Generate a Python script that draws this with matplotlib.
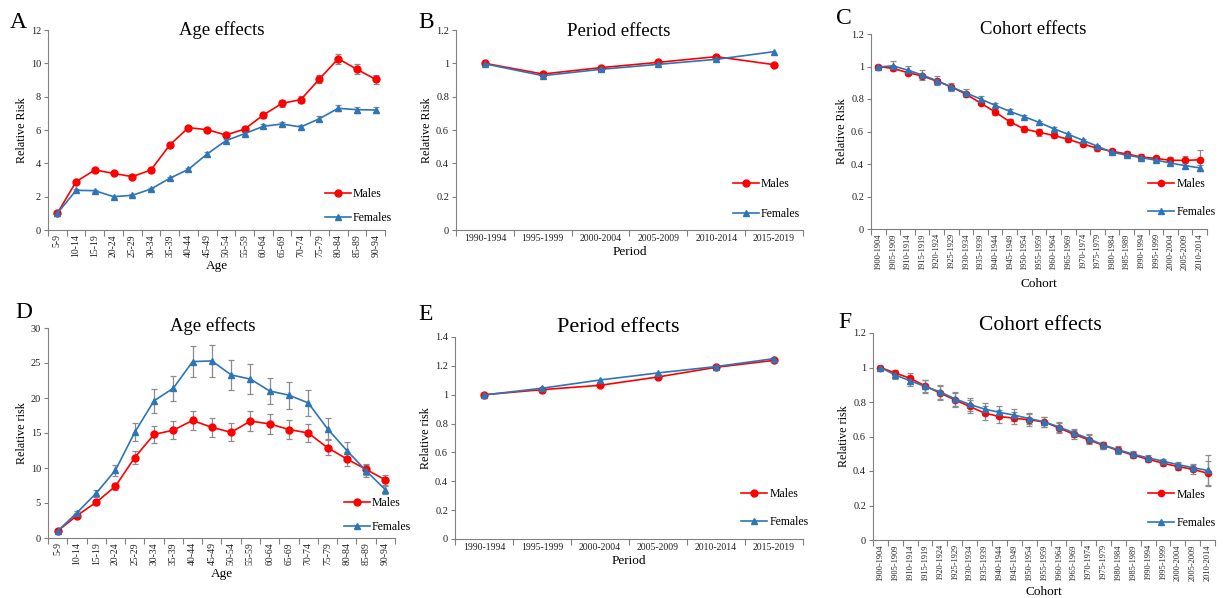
import matplotlib
matplotlib.use("Agg")
import matplotlib.pyplot as plt
from matplotlib.ticker import FuncFormatter

plt.rcParams['font.family'] = ['Liberation Serif', 'DejaVu Serif']

ages = ['5-9', '10-14', '15-19', '20-24', '25-29', '30-34', '35-39', '40-44', '45-49',
        '50-54', '55-59', '60-64', '65-69', '70-74', '75-79', '80-84', '85-89', '90-94']
periods = ['1990-1994', '1995-1999', '2000-2004', '2005-2009', '2010-2014', '2015-2019']
cohorts = ['%d-%d' % (y, y + 4) for y in range(1900, 2011, 5)]

# A: age effects (top)
a_m = [1.0, 2.9, 3.6, 3.4, 3.2, 3.6, 5.1, 6.14, 6.02, 5.7, 6.05, 6.9, 7.6, 7.82, 9.06, 10.28, 9.64, 9.04]
a_m_err = [0.05, 0.1, 0.1, 0.1, 0.1, 0.1, 0.12, 0.12, 0.12, 0.12, 0.12, 0.15, 0.2, 0.2, 0.25, 0.3, 0.3, 0.25]
a_f = [1.0, 2.38, 2.36, 2.0, 2.08, 2.46, 3.1, 3.64, 4.56, 5.36, 5.78, 6.22, 6.36, 6.18, 6.68, 7.3, 7.22, 7.2]
a_f_err = [0.03, 0.07, 0.07, 0.06, 0.06, 0.07, 0.08, 0.09, 0.1, 0.1, 0.1, 0.12, 0.14, 0.14, 0.15, 0.18, 0.17, 0.17]

# B: period effects (top)
b_m = [1.0, 0.936, 0.974, 1.006, 1.04, 0.992]
b_f = [0.997, 0.926, 0.964, 0.994, 1.024, 1.07]

# C: cohort effects (top)
c_m = [1.0, 0.988, 0.963, 0.942, 0.91, 0.875, 0.83, 0.775, 0.72, 0.66, 0.615, 0.595,
       0.576, 0.552, 0.523, 0.497, 0.478, 0.462, 0.443, 0.434, 0.423, 0.422, 0.426]
c_m_err = [0.01, 0.01, 0.01, 0.012, 0.012, 0.012, 0.012, 0.014, 0.016, 0.018, 0.02, 0.02,
           0.018, 0.016, 0.014, 0.014, 0.014, 0.015, 0.016, 0.018, 0.022, 0.03, 0.06]
c_f = [0.997, 1.004, 0.978, 0.948, 0.913, 0.874, 0.837, 0.8, 0.761, 0.724, 0.691, 0.656,
       0.617, 0.583, 0.546, 0.509, 0.472, 0.455, 0.439, 0.424, 0.406, 0.39, 0.376]
c_f_err = [0.015, 0.03, 0.028, 0.028, 0.026, 0.025, 0.022, 0.018, 0.015, 0.012, 0.01, 0.01,
           0.01, 0.01, 0.01, 0.01, 0.012, 0.012, 0.012, 0.013, 0.014, 0.016, 0.018]

# D: age effects (bottom)
d_m = [1.0, 3.2, 5.1, 7.4, 11.5, 14.8, 15.4, 16.8, 15.8, 15.1, 16.7, 16.3, 15.5, 15.0, 12.9, 11.3, 9.8, 8.3]
d_m_err = [0.15, 0.25, 0.35, 0.5, 0.9, 1.2, 1.3, 1.4, 1.3, 1.3, 1.4, 1.4, 1.4, 1.3, 1.1, 1.0, 0.8, 0.7]
d_f = [1.0, 3.6, 6.4, 9.7, 15.1, 19.6, 21.4, 25.2, 25.3, 23.3, 22.7, 21.0, 20.4, 19.3, 15.6, 12.5, 9.6, 6.9]
d_f_err = [0.15, 0.3, 0.5, 0.8, 1.3, 1.7, 1.8, 2.2, 2.3, 2.1, 2.1, 1.9, 1.9, 1.8, 1.5, 1.2, 0.9, 0.6]

# E: period effects (bottom)
e_m = [1.0, 1.035, 1.065, 1.123, 1.19, 1.238]
e_f = [0.998, 1.045, 1.102, 1.151, 1.195, 1.25]

# F: cohort effects (bottom)
f_m = [1.0, 0.968, 0.937, 0.894, 0.852, 0.813, 0.774, 0.736, 0.716, 0.706, 0.697, 0.685,
       0.65, 0.613, 0.581, 0.548, 0.519, 0.492, 0.468, 0.445, 0.426, 0.41, 0.387]
f_m_err = [0.01, 0.02, 0.03, 0.035, 0.04, 0.04, 0.04, 0.04, 0.035, 0.035, 0.035, 0.03,
           0.03, 0.025, 0.025, 0.02, 0.02, 0.018, 0.016, 0.016, 0.018, 0.025, 0.07]
f_f = [1.0, 0.956, 0.923, 0.89, 0.859, 0.819, 0.786, 0.759, 0.74, 0.724, 0.704, 0.685,
       0.656, 0.621, 0.588, 0.55, 0.523, 0.497, 0.476, 0.457, 0.437, 0.42, 0.403]
f_f_err = [0.01, 0.02, 0.03, 0.035, 0.04, 0.04, 0.04, 0.035, 0.035, 0.035, 0.03, 0.03,
           0.03, 0.025, 0.025, 0.02, 0.02, 0.018, 0.016, 0.015, 0.015, 0.02, 0.09]

RED = '#ff0000'
BLUE = '#2e75b6'
GREY = '#8c8c8c'

W, H = 1223, 598
fig = plt.figure(figsize=(W / 100, H / 100), dpi=100)


def px_axes(x0, y0, x1, y1):
    return fig.add_axes([x0 / W, 1 - y1 / H, (x1 - x0) / W, (y1 - y0) / H])


def gfmt(v, pos):
    return '%g' % round(v, 2)


def panel(box, cats, males, females, m_err, f_err, ymax, ystep, xlabel, ylabel,
          rotate, leg_anchor, leg_space, xfs=7, xpad=2, ms=5):
    ax = px_axes(*box)
    x = list(range(len(cats)))
    if m_err is not None:
        ax.errorbar(x, males, yerr=m_err, fmt='none', ecolor=GREY, elinewidth=0.9,
                    capsize=2, capthick=0.9, zorder=1)
        ax.errorbar(x, females, yerr=f_err, fmt='none', ecolor=GREY, elinewidth=0.9,
                    capsize=2, capthick=0.9, zorder=1)
    ax.plot(x, males, color=RED, marker='o', ms=ms, lw=1.2, label='Males', zorder=3)
    ax.plot(x, females, color=BLUE, marker='^', ms=ms - 0.5, lw=1.2, label='Females', zorder=4)
    ax.set_xlim(-0.5, len(cats) - 0.5)
    ax.set_ylim(0, ymax)
    ticks = [i * ystep for i in range(int(round(ymax / ystep)) + 1)]
    ax.set_yticks(ticks)
    ax.yaxis.set_major_formatter(FuncFormatter(gfmt))
    ax.set_xticks(x)
    ax.set_xticklabels(cats, rotation=90 if rotate else 0)
    ax.set_xticks([i - 0.5 for i in range(len(cats) + 1)], minor=True)
    ax.tick_params(axis='x', which='major', length=0, labelsize=xfs, pad=3, colors='#222222')
    ax.tick_params(axis='x', which='minor', length=4, color='#808080', width=0.8)
    ax.tick_params(axis='y', length=3, color='#808080', width=0.8, labelsize=7.5,
                   labelcolor='#222222', pad=2)
    for s in ['top', 'right']:
        ax.spines[s].set_visible(False)
    for s in ['left', 'bottom']:
        ax.spines[s].set_color('#808080')
        ax.spines[s].set_linewidth(0.8)
    ax.set_xlabel(xlabel, fontsize=9.5, labelpad=xpad)
    ax.set_ylabel(ylabel, fontsize=8.7, labelpad=2)
    ax.legend(frameon=False, loc='lower right', bbox_to_anchor=leg_anchor,
              labelspacing=leg_space, handlelength=2.2, handletextpad=0.2, fontsize=8.5,
              borderaxespad=0)
    return ax


panel((48, 30, 385, 230), ages, a_m, a_f, a_m_err, a_f_err, 12, 2, 'Age', 'Relative Risk',
      True, (1.035, 0.005), 1.0)
panel((456, 30, 803, 230), periods, b_m, b_f, None, None, 1.2, 0.2, 'Period', 'Relative Risk',
      False, (1.005, 0.025), 1.55)
panel((871, 34, 1207, 229), cohorts, c_m, c_f, c_m_err, c_f_err, 1.2, 0.2, 'Cohort', 'Relative Risk',
      True, (1.04, 0.03), 1.4, xfs=6, xpad=6, ms=4.5)
panel((48, 328, 395, 538), ages, d_m, d_f, d_m_err, d_f_err, 30, 5, 'Age', 'Relative risk',
      True, (1.06, 0.0), 1.05)
panel((455, 337, 803, 539), periods, e_m, e_f, None, None, 1.4, 0.2, 'Period', 'Relative risk',
      False, (1.03, 0.03), 1.4)
panel((873, 333, 1215, 540), cohorts, f_m, f_f, f_m_err, f_f_err, 1.2, 0.2, 'Cohort', 'Relative risk',
      True, (1.015, 0.03), 1.4, xfs=6, xpad=4, ms=4.5)

titles = [('Age effects', 222, 30, 13.5), ('Period effects', 619, 31, 13.5),
          ('Cohort effects', 1033, 30, 13.5), ('Age effects', 213, 326, 13.5),
          ('Period effects', 618, 327, 16), ('Cohort effects', 1040, 326, 15.5)]
for t, x, y, fs in titles:
    fig.text(x / W, 1 - y / H, t, ha='center', va='center', fontsize=fs)

letters = [('A', 10, 22), ('B', 418, 22), ('C', 836, 18), ('D', 15, 312), ('E', 418, 315), ('F', 838, 322)]
for t, x, y in letters:
    fig.text(x / W, 1 - y / H, t, ha='left', va='center', fontsize=17)

fig.savefig('out.png', dpi=100)
